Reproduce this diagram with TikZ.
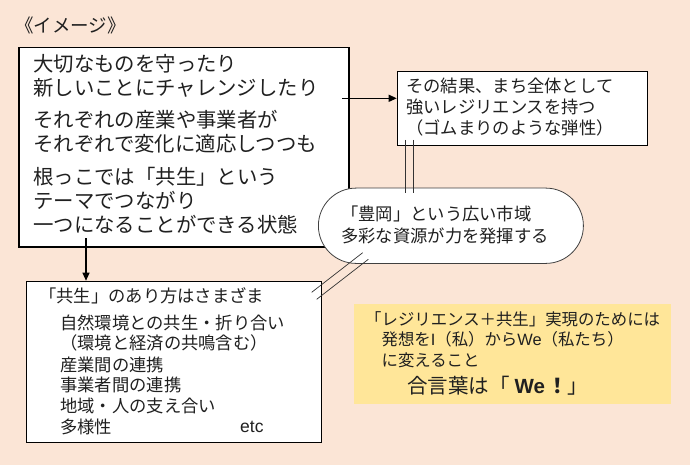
\documentclass[tikz,border=0pt]{standalone}
\usepackage{fontspec}
\setmainfont{Noto Sans CJK JP}
\newfontfamily\lat{Liberation Sans}
\usetikzlibrary{arrows.meta}
\definecolor{bgpeach}{HTML}{FBE5D6}
\definecolor{ylw}{HTML}{FFE699}
\definecolor{txt}{HTML}{202020}
\tikzset{
  box/.style={draw=black, fill=white, line width=1pt, inner sep=0pt, anchor=north west},
  tln/.style={anchor=base west, inner sep=0pt, text=txt, font=\fontsize{18.5pt}{22pt}\selectfont, yshift=-7.03pt},
  mln/.style={anchor=base west, inner sep=0pt, text=txt, font=\fontsize{20.4pt}{24pt}\selectfont, yshift=-7.75pt},
  sln/.style={anchor=base west, inner sep=0pt, text=txt, font=\fontsize{17.3pt}{21pt}\selectfont, yshift=-6.57pt},
  yln/.style={anchor=base west, inner sep=0pt, text=txt, font=\fontsize{16.4pt}{20pt}\selectfont, yshift=-6.23pt},
  bln/.style={anchor=base west, inner sep=0pt, text=txt, font=\fontsize{20.5pt}{24pt}\selectfont, yshift=-7.8pt},
  arr/.style={line width=1.2pt, -{Triangle[length=8pt,width=7pt]}},
  dbl/.style={line width=0.7pt, draw=black!80},
}
\begin{document}
\begin{tikzpicture}[x=1pt,y=-1pt]
\useasboundingbox (0,0) rectangle (690,465);
\fill[bgpeach] (0,0) rectangle (690,465);

\node[tln] (t0) at (15,25.8) {《イメージ》};

% boxes
\node[box, line width=1.5pt, minimum width=330pt, minimum height=199pt] (main) at (18,47) {};
\node[box, minimum width=250pt, minimum height=74.3pt] (rbox) at (396.7,70.7) {};
\node[box, minimum width=295.3pt, minimum height=161.6pt] (lbox) at (25.7,280.7) {};
\node[fill=ylw, anchor=north west, minimum width=317pt, minimum height=100pt, inner sep=0pt] (ybox) at (354,303.3) {};

% arrows
\coordinate (a1) at (342,98.3);
\draw[arr] (a1) -- (a1 -| rbox.west);
\coordinate (a2) at (86,238);
\draw[arr] (a2) -- (a2 |- lbox.north);

% oval
\node[draw=black!75, fill=white, line width=0.8pt, rounded corners=37.6pt, minimum width=265pt, minimum height=75.3pt, inner sep=0pt, anchor=north west] (oval) at (318,187.7) {};

% main box text
\node[mln] (m1) at (33,63.3) {大切なものを守ったり};
\node[mln] (m2) at (33,87.5) {新しいことにチャレンジしたり};
\node[mln] (m3) at (33,120) {それぞれの産業や事業者が};
\node[mln] (m4) at (33,144) {それぞれで変化に適応しつつも};
\node[mln] (m5) at (33,176.7) {根っこでは「共生」という};
\node[mln] (m6) at (33,200.8) {テーマでつながり};
\node[mln] (m7) at (33,225) {一つになることができる状態};

% right box text
\node[sln] (r1) at (406,85.8) {その結果、まち全体として};
\node[sln] (r2) at (406,107.2) {強いレジリエンスを持つ};
\node[sln] (r3) at (406,127.5) {（ゴムまりのような弾性）};

% oval text
\node[sln] (o1) at (341,214.2) {「豊岡」という広い市域};
\node[sln] (o2) at (341,235.8) {多彩な資源が力を発揮する};

% lower box text
\node[sln] (l1) at (39,296.3) {「共生」のあり方はさまざま};
\node[sln] (l2) at (60,322.5) {自然環境との共生・折り合い};
\node[sln] (l3) at (60,343) {（環境と経済の共鳴含む）};
\node[sln] (l4) at (60,364.7) {産業間の連携};
\node[sln] (l5) at (60,385) {事業者間の連携};
\node[sln] (l6) at (60,405.8) {地域・人の支え合い};
\node[sln] (l7) at (60,427.2) {多様性};
\node[anchor=base west, inner sep=0pt, text=txt, font=\lat\fontsize{17.5pt}{20pt}\selectfont] (le) at (240,432.7) {etc};

% yellow box text
\node[yln] (y1) at (365,318.8) {「レジリエンス＋共生」実現のためには};
\node[yln] (y2) at (365,338.8) {　発想を{\lat I}（私）から{\lat We}（私たち）};
\node[yln] (y3) at (365,360) {　に変えること};
\node[bln] (y4) at (407,385.8) {合言葉は「\hspace{5pt}{\lat\bfseries We}\hspace{2pt}{\bfseries ！}」};

% double connector lines
\coordinate (v1a) at (405,140);   \coordinate (v1b) at (405,193.3);
\coordinate (v2a) at (413.3,140); \coordinate (v2b) at (413.3,193.3);
\draw[dbl] (v1a) -- (v1b);
\draw[dbl] (v2a) -- (v2b);
\coordinate (d1a) at (362.7,252.7); \coordinate (d1b) at (311.7,292.3);
\coordinate (d2a) at (368.3,259.3); \coordinate (d2b) at (316.7,299.3);
\draw[dbl] (d1a) -- (d1b);
\draw[dbl] (d2a) -- (d2b);
\end{tikzpicture}
\end{document}
